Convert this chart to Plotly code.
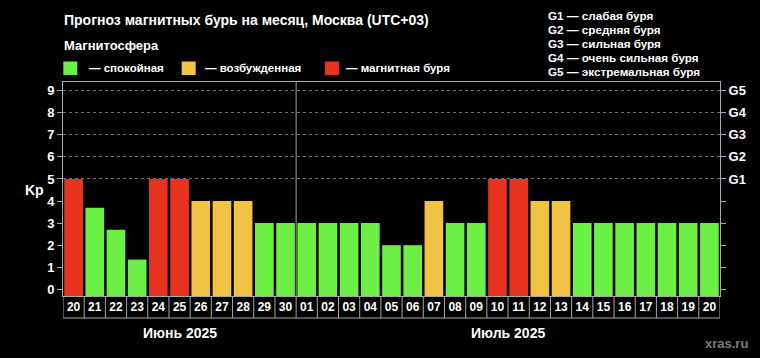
import plotly.graph_objects as go

# ---- data ----
days = ["20", "21", "22", "23", "24", "25", "26", "27", "28", "29", "30",
        "01", "02", "03", "04", "05", "06", "07", "08", "09", "10",
        "11", "12", "13", "14", "15", "16", "17", "18", "19", "20"]
kp = [5, 3.7, 2.7, 1.35, 5, 5, 4, 4, 4, 3, 3,
      3, 3, 3, 3, 2, 2, 4, 3, 3, 5,
      5, 4, 4, 3, 3, 3, 3, 3, 3, 3]
months = ["Июнь 2025", "Июль 2025"]
month_days = [11, 20]
g_levels = [5, 6, 7, 8, 9]
g_labels = ["G1", "G2", "G3", "G4", "G5"]
g_desc = ["G1 — слабая буря", "G2 — средняя буря", "G3 — сильная буря",
          "G4 — очень сильная буря", "G5 — экстремальная буря"]
legend_names = ["— спокойная", "— возбужденная", "— магнитная буря"]

GREEN, YELLOW, RED = "#6cf046", "#f2c244", "#e8331f"
legend_colors = [GREEN, YELLOW, RED]


def color_for(v):
    if v >= 5:
        return RED
    if v >= 4:
        return YELLOW
    return GREEN


W, H = 760, 358
L, R, T, B = 63, 40, 82, 62
PW, PH = W - L - R, H - T - B
BASE = -0.3


def xp(px):
    return (px - L) / PW


def yp(py):
    return (H - B - py) / PH


FONT = "Liberation Sans, Arial, sans-serif"
GRAY = "#a8a8a8"

x = list(range(len(days)))
fig = go.Figure()
fig.add_trace(go.Bar(x=x, y=[v - BASE for v in kp], base=BASE,
                     marker=dict(color=[color_for(v) for v in kp], line=dict(width=0)),
                     showlegend=False, hoverinfo="skip"))
# helper invisible trace so the right axis is drawn
fig.add_trace(go.Scatter(x=[0], y=[0], yaxis="y2", mode="markers", marker=dict(opacity=0),
                         showlegend=False, hoverinfo="skip"))

yr = [BASE, 9.39]
fig.update_layout(
    width=W, height=H,
    margin=dict(l=L, r=R, t=T, b=B),
    paper_bgcolor="black", plot_bgcolor="black",
    font=dict(family=FONT, color="white"),
    bargap=0.12,
    xaxis=dict(range=[-0.5, len(days) - 0.5], tickvals=x, ticktext=days, ticks="",
               showgrid=False, zeroline=False, showline=True, mirror=True, linecolor=GRAY,
               tickfont=dict(size=12, color="white", weight="bold", family=FONT)),
    yaxis=dict(range=yr, tickvals=list(range(10)), ticks="outside", ticklen=5, tickcolor=GRAY,
               showgrid=False, zeroline=False, showline=True, linecolor=GRAY,
               tickfont=dict(size=13, color="white", weight="bold", family=FONT)),
    yaxis2=dict(range=yr, overlaying="y", side="right", tickvals=g_levels, ticktext=g_labels,
                ticks="outside", ticklen=5, tickcolor=GRAY, showline=True, linecolor=GRAY,
                showgrid=True, gridcolor="#707070", griddash="dot", gridwidth=1, zeroline=False,
                minor=dict(dtick=1, tick0=0, ticks="outside", ticklen=5, tickcolor=GRAY, showgrid=False),
                tickfont=dict(size=13, color="white", weight="bold", family=FONT)),
)

shapes = []
# month separator
shapes.append(dict(type="line", xref="x", yref="paper", x0=month_days[0] - 0.5, x1=month_days[0] - 0.5,
                   y0=0, y1=1, line=dict(color=GRAY, width=1)))
# date cells
cell_h = 22 / PH
for i in range(len(days) + 1):
    shapes.append(dict(type="line", xref="x", yref="paper", x0=i - 0.5, x1=i - 0.5,
                       y0=-cell_h, y1=0, line=dict(color=GRAY, width=1)))
shapes.append(dict(type="line", xref="x", yref="paper", x0=-0.5, x1=len(days) - 0.5,
                   y0=-cell_h, y1=-cell_h, line=dict(color=GRAY, width=1)))
# legend squares
sq_x = [63.3, 181.7, 325]
for sx, c in zip(sq_x, legend_colors):
    shapes.append(dict(type="rect", xref="paper", yref="paper", x0=xp(sx), x1=xp(sx + 14),
                       y0=yp(75), y1=yp(61.5), fillcolor=c, line=dict(width=0)))
fig.update_layout(shapes=shapes)

ann = []


def txt(text, px, py, size, color="white", xanchor="left"):
    ann.append(dict(text="<b>" + text + "</b>", xref="paper", yref="paper", x=xp(px), y=yp(py),
                    xanchor=xanchor, yanchor="middle", showarrow=False,
                    font=dict(size=size, color=color, family=FONT)))


txt("Прогноз магнитных бурь на месяц, Москва (UTC+03)", 62, 20, 14)
txt("Магнитосфера", 62, 46, 13)
tx = [87, 203, 344]
for t_x, name in zip(tx, legend_names):
    txt(name, t_x, 68, 11.5)
gy = [15, 29.2, 43.4, 57.6, 71.8]
for g_y, d in zip(gy, g_desc):
    txt(d, 546, g_y, 11.7)
txt("Kp", 34, 190, 14, xanchor="center")
txt("xras.ru", 750, 343, 13, color="#7a7a7a", xanchor="right")

start = 0
for m, n in zip(months, month_days):
    center = start + (n - 1) / 2
    ann.append(dict(text="<b>" + m + "</b>", xref="x", yref="paper", x=center, y=yp(333),
                    xanchor="center", yanchor="middle", showarrow=False,
                    font=dict(size=14, color="white", family=FONT)))
    start += n

fig.update_layout(annotations=ann)
fig.write_html("out.html", config={"displayModeBar": False},
               post_script="document.body.style.margin='0';document.body.style.background='black';")
